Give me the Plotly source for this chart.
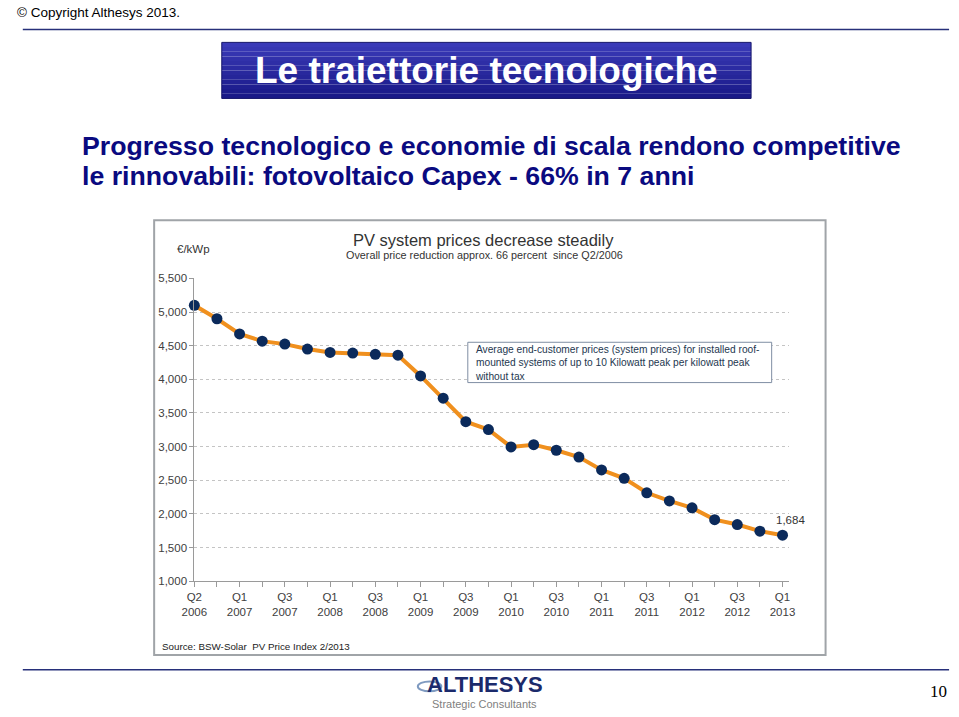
import plotly.graph_objects as go

W, H = 959, 717

# ---- data ----
period_index = list(range(27))
prices = [5100, 4900, 4675, 4567, 4523, 4450, 4400, 4390, 4372, 4358,
          4050, 3720, 3370, 3253, 2995, 3029, 2946, 2844, 2654, 2528,
          2314, 2193, 2090, 1915, 1842, 1744, 1684]
tick_labels = ["Q2<br>2006", "Q1<br>2007", "Q3<br>2007", "Q1<br>2008", "Q3<br>2008",
               "Q1<br>2009", "Q3<br>2009", "Q1<br>2010", "Q3<br>2010", "Q1<br>2011",
               "Q3<br>2011", "Q1<br>2012", "Q3<br>2012", "Q1<br>2013"]
y_ticks = [1000, 1500, 2000, 2500, 3000, 3500, 4000, 4500, 5000, 5500]


def px(x):
    return x / W


def py(y):
    return 1 - y / H


tickvals = period_index
ticktext = [tick_labels[i // 2] if i % 2 == 0 else "" for i in period_index]

fig = go.Figure()
fig.add_trace(go.Scatter(
    x=period_index, y=prices, mode="lines+markers",
    line=dict(color="#F0901E", width=4),
    marker=dict(color="#0B2A5B", size=11),
    cliponaxis=False, showlegend=False,
))

FONT = "Liberation Sans, Arial, sans-serif"
GRAY = "#404040"

fig.update_layout(
    width=W, height=H,
    margin=dict(l=0, r=0, t=0, b=0),
    paper_bgcolor="white", plot_bgcolor="white",
    font=dict(family=FONT, color=GRAY),
    xaxis=dict(domain=[px(185), px(792)], range=[0, 26.3],
               tickvals=tickvals, ticktext=ticktext,
               ticks="outside", ticklen=5, tickcolor="#9a9a9a",
               showline=True, linecolor="#9a9a9a", linewidth=1,
               showgrid=False, zeroline=False,
               tickfont=dict(size=11.5, color=GRAY)),
    yaxis=dict(domain=[py(585), py(277)], range=[1000, 5500],
               tickvals=y_ticks, tickformat=",",
               ticks="outside", ticklen=4, tickcolor="#9a9a9a",
               showline=True, linecolor="#9a9a9a", linewidth=1,
               showgrid=True, gridcolor="#c4c4c4", griddash="dot", gridwidth=1,
               zeroline=False,
               tickfont=dict(size=11.5, color=GRAY)),
)

shapes = []
# top & bottom rules
shapes.append(dict(type="line", xref="paper", yref="paper", x0=px(10), x1=px(955),
                   y0=py(24), y1=py(24), line=dict(color="#27307A", width=1.5)))
shapes.append(dict(type="line", xref="paper", yref="paper", x0=px(10), x1=px(955),
                   y0=py(675), y1=py(675), line=dict(color="#27307A", width=1.5)))
# title box with a stepped vertical gradient
top, bot = 37, 94
steps = 12
c_top = (0x3A, 0x3A, 0xB8)
c_bot = (0x1A, 0x1A, 0x88)
for i in range(steps):
    t = i / (steps - 1)
    c = tuple(int(c_top[k] + (c_bot[k] - c_top[k]) * t) for k in range(3))
    y0 = top + (bot - top) * i / steps
    y1 = top + (bot - top) * (i + 1) / steps
    shapes.append(dict(type="rect", xref="paper", yref="paper",
                       x0=px(213), x1=px(753), y0=py(y1), y1=py(y0),
                       fillcolor="rgb(%d,%d,%d)" % c, line=dict(width=0), layer="below"))
shapes.append(dict(type="rect", xref="paper", yref="paper",
                   x0=px(213), x1=px(753), y0=py(bot), y1=py(top),
                   line=dict(color="#15156A", width=1), layer="below"))
# chart frame
shapes.append(dict(type="rect", xref="paper", yref="paper",
                   x0=px(144), x1=px(829), y0=py(660), y1=py(218),
                   line=dict(color="#A0A4A8", width=2), layer="below"))
# annotation note box
shapes.append(dict(type="rect", xref="paper", yref="paper",
                   x0=px(464), x1=px(774), y0=py(383), y1=py(342),
                   fillcolor="white", line=dict(color="#7F8EA3", width=1), layer="above"))
# logo ring
shapes.append(dict(type="circle", xref="paper", yref="paper",
                   x0=px(413), x1=px(437), y0=py(697), y1=py(687),
                   line=dict(color="#7F9AC0", width=2)))
fig.update_layout(shapes=shapes)

ann = []


def text(x, y, s, size, color="#000", bold=False, xanchor="center", family=FONT, align="center"):
    if bold:
        s = "<b>" + s + "</b>"
    ann.append(dict(xref="paper", yref="paper", x=px(x), y=py(y), text=s,
                    showarrow=False, xanchor=xanchor, yanchor="middle", align=align,
                    font=dict(size=size, color=color, family=family)))


text(2, 7, "© Copyright Althesys 2013.", 13.5, "#000", xanchor="left")
text(483, 66, "Le traiettorie tecnologiche", 37, "white", bold=True)
text(68, 142, "Progresso tecnologico e economie di scala rendono competitive", 26.7, "#0A0A80",
     bold=True, xanchor="left")
text(68, 173, "le rinnovabili: fotovoltaico Capex - 66% in 7 anni", 26.7, "#0A0A80",
     bold=True, xanchor="left")
text(480, 238, "PV system prices decrease steadily", 16.5, "#333333")
text(481, 253, "Overall price reduction approx. 66 percent  since Q2/2006", 10.8, "#333333")
text(165, 247, "€/kWp", 11.5, "#333333", xanchor="left")
text(469, 363, "Average end-customer prices (system prices) for installed roof-<br>"
               "mounted systems of up to 10 Kilowatt peak per kilowatt peak<br>without tax",
     10.2, "#243750", xanchor="left", align="left")
text(150, 651, "Source: BSW-Solar  PV Price Index 2/2013", 9.8, "#222222", xanchor="left")
text(482, 690, "ALTHESYS", 22, "#1B2A6B", bold=True)
text(481, 710, "Strategic Consultants", 11, "#808080")
text(944, 697, "10", 17, "#000", family="Liberation Serif, Times New Roman, serif")

# last value label
ann.append(dict(x=period_index[-1], y=prices[-1], xref="x", yref="y",
                text=f"{prices[-1]:,}", showarrow=False, xanchor="center", yanchor="bottom",
                xshift=8, yshift=7, font=dict(size=11.5, color="#333333", family=FONT)))
fig.update_layout(annotations=ann)

fig.write_html("out.html")
